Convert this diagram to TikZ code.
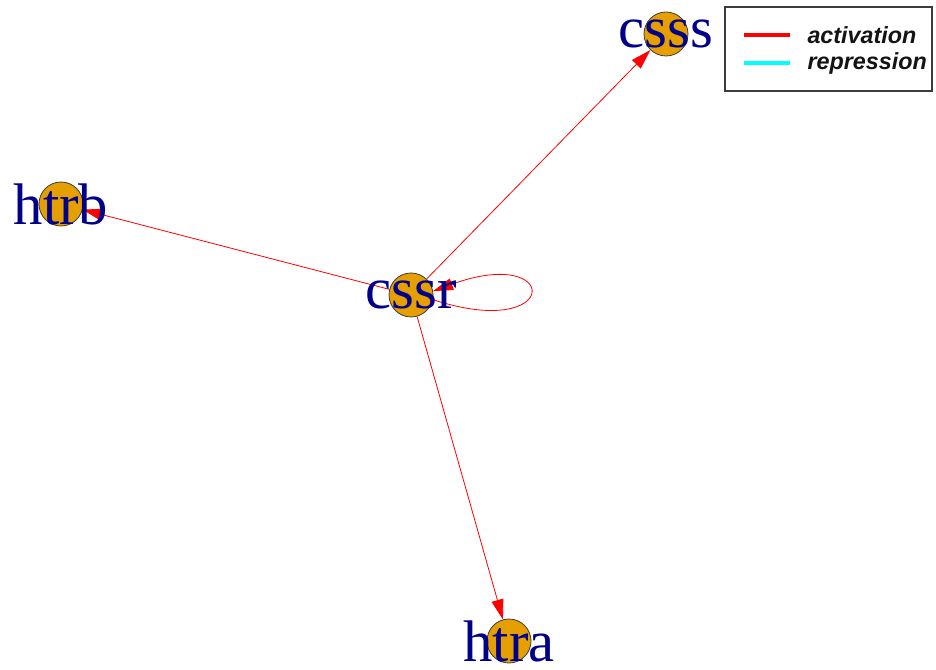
\documentclass[tikz,border=0pt]{standalone}
\usepackage{fontspec}
\setmainfont{Liberation Serif}
\newfontfamily\legendfont{Liberation Sans}
\usetikzlibrary{arrows.meta}

\definecolor{genefill}{RGB}{230,159,0}
\definecolor{genetext}{RGB}{0,0,139}
\definecolor{repcyan}{RGB}{0,255,255}

\tikzset{every picture/.style={line width=0.75pt}}
\tikzset{
  gene/.style={circle, draw={rgb,255:red,60;green,60;blue,60}, fill=genefill, line width=0.6pt, minimum size=33pt, inner sep=0pt},
  genename/.style={anchor=center, text=genetext, inner sep=0pt, font=\fontsize{44}{44}\selectfont},
  activ/.style={draw=red, line width=0.6pt, -{Triangle[length=15pt,width=9pt]}},
  legendtxt/.style={anchor=west, inner sep=0.75pt, font=\legendfont\bfseries\itshape\fontsize{17.5}{17.5}\selectfont, text={rgb,255:red,20;green,20;blue,20}}
}

\begin{document}
\begin{tikzpicture}[x=0.75pt,y=0.75pt,yscale=-1,xscale=1]
\useasboundingbox (0,0) rectangle (936,670);

%Shape: Gene circles
\node [gene] (cssr) at (411,295) {};
\node [gene] (csss) at (666,34) {};
\node [gene] (htrb) at (61,204) {};
\node [gene] (htra) at (509,641) {};

%Straight Lines: activations
\draw [activ] (cssr) -- (csss);
\draw [activ] (cssr) -- (htrb);
\draw [activ] (cssr) -- (htra);
%Curve: self loop
\draw [activ] (cssr.-12) .. controls (562,342) and (562,244) .. (cssr.10);

% Text Node
\node [genename] (cssrname) at (cssr) {cssr};
% Text Node
\node [genename] (csssname) at (csss) {csss};
% Text Node
\node [genename] (htrbname) at (htrb) {htrb};
% Text Node
\node [genename] (htraname) at (htra) {htra};

%Shape: Legend box
\draw [draw={rgb,255:red,60;green,60;blue,60}, line width=0.9pt] (725,7) rectangle (932,91);
%Straight Lines: legend keys
\draw [red, line width=2.4pt] (744,35) -- (790,35);
\draw [repcyan, line width=2.4pt] (744,63) -- (790,63);
% Text Node
\node [legendtxt] (activtxt) at (806,35) {activation};
% Text Node
\node [legendtxt] (reprtxt) at (806,63) {repression};

\end{tikzpicture}
\end{document}
